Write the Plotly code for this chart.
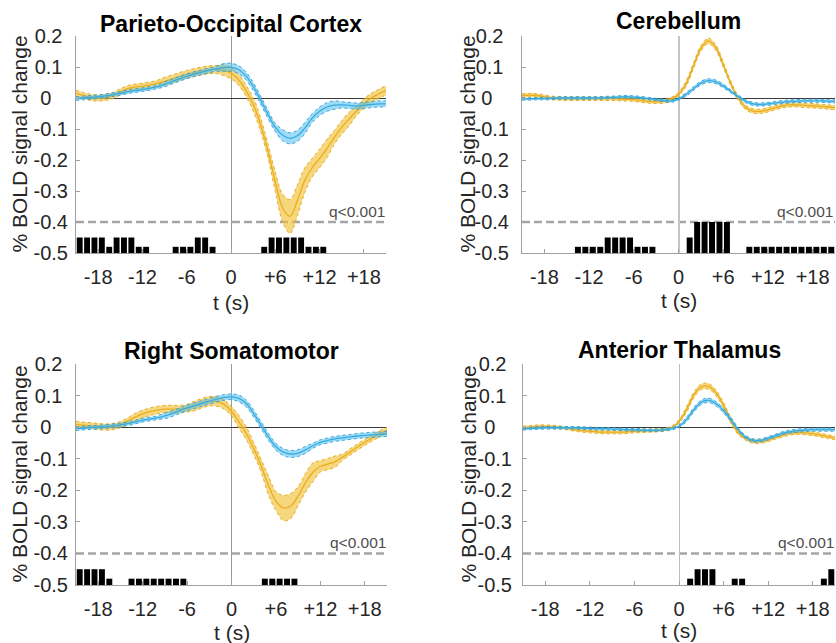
import plotly.graph_objects as go

# ---------------- data ----------------
T = [-21, -20, -19, -18, -17, -16, -15, -14, -13, -12, -11, -10, -9, -8, -7, -6, -5, -4, -3, -2, -1,
     0, 1, 2, 3, 4, 5, 6, 7, 8, 9, 10, 11, 12, 13, 14, 15, 16, 17, 18, 19, 20, 21]

X_TICKS = [-18, -12, -6, 0, 6, 12, 18]
X_TICK_LABELS = ["-18", "-12", "-6", "0", "+6", "+12", "+18"]
Y_TICKS = [-0.5, -0.4, -0.3, -0.2, -0.1, 0, 0.1, 0.2]
Y_TICK_LABELS = ["-0.5", "-0.4", "-0.3", "-0.2", "-0.1", "0\u2007\u2008", "0.1\u2008", "0.2\u2008"]

TITLES = ["Parieto-Occipital Cortex", "Cerebellum", "Right Somatomotor", "Anterior Thalamus"]

# Parieto-Occipital Cortex
PO_YEL = [0.015, 0.008, 0.002, 0.0, 0.002, 0.008, 0.02, 0.03, 0.035, 0.038, 0.042, 0.047, 0.054, 0.061,
          0.069, 0.076, 0.082, 0.087, 0.091, 0.092, 0.09, 0.08, 0.06, 0.025, -0.02, -0.085, -0.17, -0.27,
          -0.355, -0.382, -0.33, -0.265, -0.225, -0.195, -0.163, -0.127, -0.095, -0.068, -0.042, -0.018,
          0.0, 0.013, 0.025]
PO_YEL_SEM = [0.01, 0.01, 0.01, 0.01, 0.01, 0.01, 0.01, 0.01, 0.01, 0.01, 0.01, 0.01, 0.013, 0.013,
              0.013, 0.013, 0.013, 0.013, 0.013, 0.013, 0.018, 0.018, 0.018, 0.018, 0.022, 0.022, 0.022,
              0.032, 0.045, 0.055, 0.05, 0.04, 0.03, 0.03, 0.03, 0.022, 0.022, 0.022, 0.015, 0.015, 0.015,
              0.015, 0.015]
PO_BLU = [-0.002, 0.0, 0.002, 0.004, 0.007, 0.011, 0.015, 0.02, 0.024, 0.027, 0.031, 0.036, 0.044, 0.053,
          0.062, 0.07, 0.077, 0.083, 0.089, 0.094, 0.098, 0.099, 0.092, 0.072, 0.038, -0.006, -0.052,
          -0.095, -0.12, -0.13, -0.122, -0.097, -0.065, -0.043, -0.029, -0.023, -0.022, -0.024, -0.026,
          -0.024, -0.021, -0.019, -0.019]
PO_BLU_SEM = [0.006, 0.006, 0.006, 0.006, 0.006, 0.006, 0.006, 0.006, 0.006, 0.006, 0.006, 0.006, 0.008,
              0.008, 0.008, 0.008, 0.008, 0.008, 0.008, 0.008, 0.013, 0.013, 0.013, 0.013, 0.013, 0.013,
              0.013, 0.013, 0.018, 0.018, 0.018, 0.018, 0.014, 0.014, 0.014, 0.014, 0.01, 0.01, 0.01, 0.01,
              0.01, 0.01, 0.01]
PO_SIG_T = [-20.5, -19.5, -18.5, -17.5, -16.5, -15.5, -14.5, -13.5, -12.5, -11.5, -7.5, -6.5, -5.5, -4.5,
            -3.5, -2.5, 4.5, 5.5, 6.5, 7.5, 8.5, 9.5, 10.5, 11.5, 12.5]
PO_SIG_TOP = [-0.45, -0.45, -0.45, -0.45, -0.48, -0.45, -0.45, -0.45, -0.48, -0.48, -0.48, -0.48, -0.48,
              -0.45, -0.45, -0.48, -0.48, -0.45, -0.45, -0.45, -0.45, -0.45, -0.48, -0.48, -0.48]

# Cerebellum
CB_YEL = [0.008, 0.009, 0.008, 0.004, 0.0, -0.001, -0.002, -0.002, -0.002, -0.002, -0.002, -0.002, -0.002,
          -0.003, -0.004, -0.005, -0.008, -0.011, -0.012, -0.011, -0.004, 0.012, 0.045, 0.103, 0.16, 0.184,
          0.163, 0.108, 0.048, 0.0, -0.03, -0.042, -0.043, -0.038, -0.031, -0.025, -0.022, -0.022, -0.024,
          -0.025, -0.027, -0.029, -0.031]
CB_YEL_SEM = [0.006, 0.006, 0.006, 0.006, 0.006, 0.006, 0.006, 0.006, 0.006, 0.006, 0.006, 0.006, 0.006,
              0.006, 0.006, 0.006, 0.006, 0.006, 0.006, 0.006, 0.006, 0.006, 0.009, 0.009, 0.009, 0.009,
              0.009, 0.009, 0.007, 0.007, 0.007, 0.007, 0.007, 0.007, 0.007, 0.007, 0.007, 0.007, 0.007,
              0.007, 0.007, 0.007, 0.007]
CB_BLU = [-0.003, -0.003, -0.002, -0.002, -0.001, 0.0, 0.0, 0.0, 0.0, 0.0, 0.0, 0.001, 0.002, 0.003, 0.004,
          0.003, 0.001, -0.002, -0.005, -0.008, -0.01, -0.003, 0.011, 0.03, 0.048, 0.056, 0.052, 0.039,
          0.022, 0.005, -0.01, -0.019, -0.021, -0.019, -0.016, -0.013, -0.011, -0.01, -0.009, -0.009,
          -0.009, -0.01, -0.011]
CB_BLU_SEM = [0.004, 0.004, 0.004, 0.004, 0.004, 0.004, 0.004, 0.004, 0.004, 0.004, 0.004, 0.004, 0.004,
              0.004, 0.004, 0.004, 0.004, 0.004, 0.004, 0.004, 0.004, 0.004, 0.006, 0.006, 0.006, 0.006,
              0.006, 0.006, 0.005, 0.005, 0.005, 0.005, 0.005, 0.005, 0.005, 0.005, 0.005, 0.005, 0.005,
              0.005, 0.005, 0.005, 0.005]
CB_SIG_T = [-13.5, -12.5, -11.5, -10.5, -9.5, -8.5, -7.5, -6.5, -5.5, -4.5, -3.5, 1.5, 2.5, 3.5, 4.5, 5.5,
            6.5, 9.5, 10.5, 11.5, 12.5, 13.5, 14.5, 15.5, 16.5, 17.5, 18.5, 19.5, 20.5]
CB_SIG_TOP = [-0.48, -0.48, -0.48, -0.48, -0.45, -0.45, -0.45, -0.45, -0.48, -0.48, -0.48, -0.45, -0.40,
              -0.40, -0.40, -0.40, -0.40, -0.48, -0.48, -0.48, -0.48, -0.48, -0.48, -0.48, -0.48, -0.48,
              -0.48, -0.48, -0.48]

# Right Somatomotor
RS_YEL = [0.008, 0.006, 0.004, 0.002, 0.0, 0.002, 0.008, 0.02, 0.032, 0.042, 0.049, 0.054, 0.057, 0.057,
          0.057, 0.06, 0.067, 0.076, 0.082, 0.081, 0.072, 0.05, 0.017, -0.02, -0.068, -0.122, -0.185,
          -0.234, -0.256, -0.25, -0.218, -0.176, -0.143, -0.124, -0.117, -0.109, -0.095, -0.079, -0.063,
          -0.048, -0.034, -0.021, -0.01]
RS_YEL_SEM = [0.01, 0.01, 0.01, 0.01, 0.01, 0.01, 0.01, 0.01, 0.012, 0.012, 0.012, 0.012, 0.012, 0.012,
              0.012, 0.012, 0.015, 0.015, 0.015, 0.015, 0.015, 0.015, 0.02, 0.02, 0.02, 0.02, 0.03, 0.03,
              0.04, 0.04, 0.03, 0.03, 0.03, 0.018, 0.018, 0.018, 0.01, 0.01, 0.01, 0.01, 0.01, 0.01, 0.01]
RS_BLU = [-0.005, -0.003, -0.001, 0.0, 0.002, 0.004, 0.007, 0.011, 0.016, 0.022, 0.026, 0.03, 0.036, 0.043,
          0.052, 0.061, 0.068, 0.075, 0.082, 0.089, 0.094, 0.096, 0.091, 0.075, 0.043, 0.006, -0.031,
          -0.062, -0.079, -0.085, -0.082, -0.072, -0.059, -0.048, -0.042, -0.037, -0.034, -0.031, -0.028,
          -0.026, -0.024, -0.023, -0.021]
RS_BLU_SEM = [0.006, 0.006, 0.006, 0.006, 0.006, 0.006, 0.006, 0.006, 0.006, 0.006, 0.006, 0.006, 0.009,
              0.009, 0.009, 0.009, 0.009, 0.009, 0.009, 0.009, 0.009, 0.009, 0.011, 0.011, 0.011, 0.011,
              0.011, 0.011, 0.011, 0.011, 0.011, 0.011, 0.008, 0.008, 0.008, 0.008, 0.008, 0.008, 0.008,
              0.008, 0.008, 0.008, 0.008]
RS_SIG_T = [-20.5, -19.5, -18.5, -17.5, -16.5, -13.5, -12.5, -11.5, -10.5, -9.5, -8.5, -7.5, -6.5, 4.5, 5.5,
            6.5, 7.5, 8.5]
RS_SIG_TOP = [-0.45, -0.45, -0.45, -0.45, -0.48, -0.48, -0.48, -0.48, -0.48, -0.48, -0.48, -0.48, -0.48,
              -0.48, -0.48, -0.48, -0.48, -0.48]

# Anterior Thalamus
AT_YEL = [-0.002, 0.0, 0.002, 0.002, 0.001, -0.001, -0.004, -0.008, -0.011, -0.013, -0.015, -0.016, -0.016,
          -0.016, -0.015, -0.013, -0.012, -0.011, -0.01, -0.008, -0.002, 0.018, 0.055, 0.102, 0.128, 0.129,
          0.108, 0.069, 0.02, -0.018, -0.036, -0.045, -0.045, -0.04, -0.032, -0.025, -0.019, -0.017, -0.018,
          -0.021, -0.025, -0.03, -0.034]
AT_YEL_SEM = [0.005, 0.005, 0.005, 0.005, 0.005, 0.005, 0.005, 0.005, 0.005, 0.005, 0.005, 0.005, 0.005,
              0.005, 0.005, 0.005, 0.005, 0.005, 0.005, 0.005, 0.005, 0.005, 0.009, 0.009, 0.009, 0.009,
              0.009, 0.009, 0.009, 0.006, 0.006, 0.006, 0.006, 0.006, 0.006, 0.006, 0.006, 0.006, 0.006,
              0.006, 0.006, 0.006, 0.006]
AT_BLU = [-0.005, -0.004, -0.003, -0.002, -0.002, -0.002, -0.002, -0.002, -0.003, -0.004, -0.005, -0.005,
          -0.006, -0.007, -0.008, -0.008, -0.009, -0.01, -0.01, -0.008, -0.005, 0.003, 0.024, 0.055, 0.079,
          0.085, 0.074, 0.052, 0.024, -0.008, -0.032, -0.042, -0.042, -0.035, -0.027, -0.019, -0.014, -0.011,
          -0.009, -0.008, -0.008, -0.008, -0.008]
AT_BLU_SEM = [0.004, 0.004, 0.004, 0.004, 0.004, 0.004, 0.004, 0.004, 0.004, 0.004, 0.004, 0.004, 0.004,
              0.004, 0.004, 0.004, 0.004, 0.004, 0.004, 0.004, 0.004, 0.004, 0.007, 0.007, 0.007, 0.007,
              0.007, 0.007, 0.007, 0.005, 0.005, 0.005, 0.005, 0.005, 0.005, 0.005, 0.005, 0.005, 0.005,
              0.005, 0.005, 0.005, 0.005]
AT_SIG_T = [1.5, 2.5, 3.5, 4.5, 7.5, 8.5, 19.5, 20.5]
AT_SIG_TOP = [-0.48, -0.45, -0.45, -0.45, -0.48, -0.48, -0.48, -0.45]

Q_LEVEL = -0.4
Q_LABEL = "q<0.001"
BAR_BASE = -0.5

# ---------------- styling ----------------
FONT = "Liberation Sans, Arial, sans-serif"
YEL_LINE, YEL_EDGE, YEL_FILL = "#E9AE20", "#E2A514", "rgba(242,190,45,0.62)"
BLU_LINE, BLU_EDGE, BLU_FILL = "#38ABDF", "#2E9FD6", "rgba(77,190,238,0.55)"
AX_COL = "#A0A0A0"
TXT_COL = "#262626"

W, H = 836, 643
# pixel geometry of the four axes boxes: (left, right, top, bottom)
BOXES = [(76, 386, 36, 253), (522, 835, 36, 253), (76, 387, 364, 585), (523, 835, 364, 585)]
YTITLE_X = [19, 467, 19, 468]
TITLE_Y = [24, 21, 351, 350]
XTITLE_Y = [302, 300, 632, 630]
VLINE = [("#9A9A9A", 1), ("#C4C4C4", 2), ("#9A9A9A", 1), ("#BDBDBD", 1.2)]
YSTAND = [3, 8, 3, 6]

panels = [
    (PO_YEL, PO_YEL_SEM, PO_BLU, PO_BLU_SEM, PO_SIG_T, PO_SIG_TOP),
    (CB_YEL, CB_YEL_SEM, CB_BLU, CB_BLU_SEM, CB_SIG_T, CB_SIG_TOP),
    (RS_YEL, RS_YEL_SEM, RS_BLU, RS_BLU_SEM, RS_SIG_T, RS_SIG_TOP),
    (AT_YEL, AT_YEL_SEM, AT_BLU, AT_BLU_SEM, AT_SIG_T, AT_SIG_TOP),
]

fig = go.Figure()
layout = dict(
    width=W, height=H, margin=dict(l=0, r=0, t=0, b=0, autoexpand=False),
    paper_bgcolor="white", plot_bgcolor="white", showlegend=False,
    font=dict(family=FONT, color=TXT_COL), shapes=[], annotations=[],
)

for i, (yel, yel_sem, blu, blu_sem, sig_t, sig_top) in enumerate(panels, start=1):
    xa = "x" if i == 1 else f"x{i}"
    ya = "y" if i == 1 else f"y{i}"
    l, r, t, b = BOXES[i - 1]

    for mean, sem, fillc, edgec, linec in [(yel, yel_sem, YEL_FILL, YEL_EDGE, YEL_LINE),
                                           (blu, blu_sem, BLU_FILL, BLU_EDGE, BLU_LINE)]:
        lower = [m - s for m, s in zip(mean, sem)]
        upper = [m + s for m, s in zip(mean, sem)]
        fig.add_trace(go.Scatter(x=T, y=lower, mode="lines", xaxis=xa, yaxis=ya, hoverinfo="skip",
                                 line=dict(color=edgec, width=0.9, dash="dot", shape="spline")))
        fig.add_trace(go.Scatter(x=T, y=upper, mode="lines", xaxis=xa, yaxis=ya, hoverinfo="skip",
                                 fill="tonexty", fillcolor=fillc,
                                 line=dict(color=edgec, width=0.9, dash="dot", shape="spline")))
        fig.add_trace(go.Scatter(x=T, y=mean, mode="lines", xaxis=xa, yaxis=ya,
                                 line=dict(color=linec, width=1.3, shape="spline")))

    fig.add_trace(go.Bar(x=sig_t, y=[v - BAR_BASE for v in sig_top], base=BAR_BASE, width=0.8,
                         marker=dict(color="black", line=dict(width=0)), xaxis=xa, yaxis=ya))

    vcol, vw = VLINE[i - 1]
    layout["xaxis" if i == 1 else f"xaxis{i}"] = dict(
        domain=[l / W, r / W], anchor=ya, range=[-21, 21], automargin=False,
        tickvals=X_TICKS, ticktext=X_TICK_LABELS, tickfont=dict(size=20, color=TXT_COL, family=FONT),
        showline=True, linecolor=AX_COL, linewidth=1, ticks="inside", ticklen=4, tickcolor=AX_COL,
        showgrid=False, zeroline=True, zerolinecolor=vcol, zerolinewidth=vw, ticklabelstandoff=6,
        fixedrange=True,
    )
    layout["yaxis" if i == 1 else f"yaxis{i}"] = dict(
        domain=[1 - b / H, 1 - t / H], anchor=xa, range=[-0.5, 0.2], automargin=False,
        tickvals=Y_TICKS, ticktext=Y_TICK_LABELS, tickfont=dict(size=20, color=TXT_COL, family=FONT),
        showline=True, linecolor=AX_COL, linewidth=1, ticks="inside", ticklen=4, tickcolor=AX_COL,
        showgrid=False, zeroline=True, zerolinecolor="#3A3A3A", zerolinewidth=1,
        ticklabelstandoff=YSTAND[i - 1], fixedrange=True,
    )

    # significance threshold line and label
    layout["shapes"].append(dict(type="line", xref=f"{xa} domain", x0=0, x1=1, yref=ya, y0=Q_LEVEL,
                                 y1=Q_LEVEL, layer="below",
                                 line=dict(color="#A6A6A6", width=2.5, dash="8px,4px")))
    layout["annotations"].append(dict(text=Q_LABEL, xref=xa, x=13.0, xanchor="left", yref=ya, y=Q_LEVEL,
                                      yanchor="bottom", showarrow=False,
                                      font=dict(size=15.5, color="#4D4D4D", family=FONT)))
    # panel title
    layout["annotations"].append(dict(text=f"<b>{TITLES[i - 1]}</b>", xref=xa, x=0, xanchor="center",
                                      yref="paper", y=1 - TITLE_Y[i - 1] / H, yanchor="middle",
                                      showarrow=False, font=dict(size=23, color="black", family=FONT)))
    # axis titles
    layout["annotations"].append(dict(text="% BOLD signal change", xref="paper", x=YTITLE_X[i - 1] / W,
                                      xanchor="center", yref="paper", y=1 - (t + b) / 2 / H,
                                      yanchor="middle", textangle=-90, showarrow=False,
                                      font=dict(size=21, color=TXT_COL, family=FONT)))
    layout["annotations"].append(dict(text="t (s)", xref=xa, x=0, xanchor="center", yref="paper",
                                      y=1 - XTITLE_Y[i - 1] / H, yanchor="middle", showarrow=False,
                                      font=dict(size=21, color=TXT_COL, family=FONT)))

fig.update_layout(**layout)
fig.write_html("out.html", config={"displayModeBar": False})
